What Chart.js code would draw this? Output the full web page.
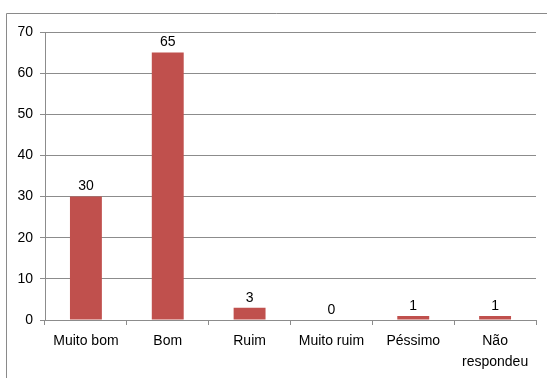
<!DOCTYPE html>
<html>
<head>
<meta charset="utf-8">
<script src="https://cdn.jsdelivr.net/npm/chart.js@4/dist/chart.umd.min.js"></script>
<style>
  html, body { margin: 0; padding: 0; background: #fff; }
  #wrap { width: 547px; height: 378px; position: relative; }
</style>
</head>
<body>
<div id="wrap"><canvas id="c"></canvas></div>
<script>
// Survey answers and their counts
const categories = ['Muito bom', 'Bom', 'Ruim', 'Muito ruim', 'Péssimo', ['Não', 'respondeu']];
const counts = [30, 65, 3, 0, 1, 1];
const yTicks = [0, 10, 20, 30, 40, 50, 60, 70];

const FONT = { family: 'Liberation Sans, Arial, sans-serif', size: 14 };
const GRID = '#8c8c8c';

// Outer frame of the chart object (top and left edges)
const framePlugin = {
  id: 'frame',
  afterDraw(chart) {
    const ctx = chart.ctx;
    ctx.save();
    ctx.strokeStyle = '#8a8a8a';
    ctx.lineWidth = 1;
    ctx.beginPath();
    ctx.moveTo(6.5, 378);
    ctx.lineTo(6.5, 13.5);
    ctx.lineTo(547, 13.5);
    ctx.stroke();
    ctx.restore();
  }
};

// Value labels above each bar
const valueLabels = {
  id: 'valueLabels',
  afterDatasetsDraw(chart) {
    const ctx = chart.ctx;
    const meta = chart.getDatasetMeta(0);
    ctx.save();
    ctx.fillStyle = '#000';
    ctx.font = `${FONT.size}px ${FONT.family}`;
    ctx.textAlign = 'center';
    ctx.textBaseline = 'bottom';
    meta.data.forEach((bar, i) => {
      ctx.fillText(String(counts[i]), bar.x, bar.y - 3);
    });
    ctx.restore();
  }
};

new Chart(document.getElementById('c'), {
  type: 'bar',
  data: {
    labels: categories,
    datasets: [{
      data: counts,
      backgroundColor: '#C0504D',
      borderWidth: 0,
      categoryPercentage: 1,
      barPercentage: 0.39
    }]
  },
  options: {
    responsive: true,
    maintainAspectRatio: false,
    animation: false,
    devicePixelRatio: 1,
    layout: { padding: { left: 0, top: 32, right: 11, bottom: 0 } },
    plugins: {
      legend: { display: false },
      tooltip: { enabled: false }
    },
    scales: {
      x: {
        offset: true,
        grid: {
          display: true,
          offset: true,
          drawOnChartArea: false,
          drawTicks: true,
          tickLength: 5,
          color: GRID
        },
        border: { display: true, color: GRID },
        ticks: {
          color: '#000',
          font: { family: FONT.family, size: FONT.size, lineHeight: 1.5 },
          padding: 6,
          maxRotation: 0,
          autoSkip: false
        },
        afterFit(scale) { scale.height = 58; }
      },
      y: {
        min: 0,
        max: 70,
        afterBuildTicks(scale) { scale.ticks = yTicks.map(v => ({ value: v })); },
        grid: {
          color: GRID,
          drawTicks: true,
          tickLength: 5
        },
        border: { display: true, color: GRID },
        ticks: {
          color: '#000',
          font: FONT,
          padding: 7
        },
        afterFit(scale) { scale.width = 45; }
      }
    }
  },
  plugins: [framePlugin, valueLabels]
});
</script>
</body>
</html>
